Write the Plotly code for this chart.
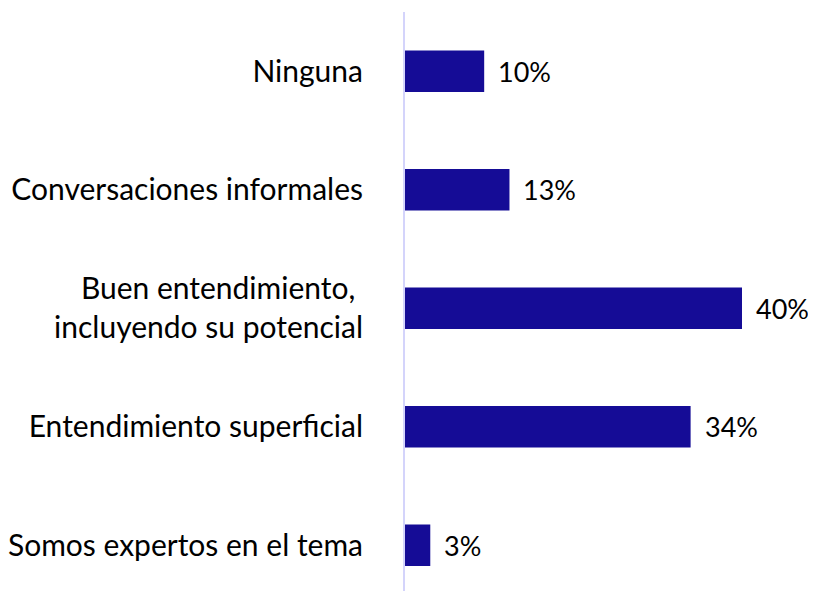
import plotly.graph_objects as go

categories = ["Ninguna", "Conversaciones informales",
              "Buen entendimiento,&nbsp;<br>incluyendo su potencial",
              "Entendimiento superficial", "Somos expertos en el tema"]
values = [0.094, 0.124, 0.40, 0.339, 0.03]
labels = ["10%", "13%", "40%", "34%", "3%"]

FONT = "Lato"
BAR = "#150c96"

fig = go.Figure(go.Bar(
    x=values, y=categories, orientation="h",
    marker=dict(color=BAR, line=dict(width=0)),
    hoverinfo="skip",
))

for v, c, t in zip(values, categories, labels):
    fig.add_annotation(x=v, y=c, text=t, showarrow=False, xanchor="left",
                       xshift=12, font=dict(family=FONT, size=27, color="#000000"))

fig.update_layout(
    width=800, height=583,
    margin=dict(l=397, r=0, t=4, b=0, autoexpand=False),
    paper_bgcolor="white", plot_bgcolor="white",
    bargap=0.65, showlegend=False,
    font=dict(family=FONT, size=27, color="#000000"),
)
fig.update_xaxes(range=[0, 403 / 842.5], visible=False, showgrid=False, zeroline=False,
                 automargin=False)
fig.update_yaxes(type="category", categoryorder="array", categoryarray=categories,
                 range=[4.386, -0.5], showgrid=False, zeroline=False,
                 showline=True, linecolor="#d4d4fb", linewidth=2,
                 ticks="", ticklabelstandoff=34, automargin=False,
                 tickfont=dict(family=FONT, size=30, color="#000000"))

fig.write_html("out.html")
